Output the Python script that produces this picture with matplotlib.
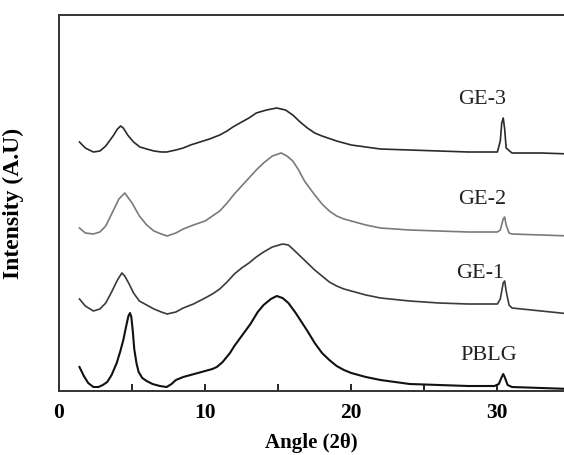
import numpy as np
import matplotlib.pyplot as plt

# === Data (angle 2theta, intensity in arbitrary units) ===
pblg_x = [1.4, 1.7, 2.0, 2.35, 2.7, 3.0, 3.3, 3.6, 3.95, 4.2, 4.4, 4.6, 4.75, 4.86, 4.95, 5.05,
          5.15, 5.3, 5.45, 5.7, 6.0, 6.4, 6.9, 7.37, 7.7, 8.0, 8.5, 9.0, 9.5, 10.0, 10.5, 10.8,
          11.2, 11.7, 12.0, 12.5, 13.1, 13.6, 14.0, 14.5, 14.9, 15.3, 15.7, 16.2, 16.6, 17.0,
          17.5, 18.0, 18.5, 19.0, 19.5, 20.0, 21.0, 22.0, 23.0, 24.0, 26.0, 28.0, 29.8, 30.1,
          30.3, 30.4, 30.5, 30.7, 31.0, 33.0, 35.0]
pblg_y = [24, 15, 8, 4, 4, 6, 9, 16, 28, 40, 51, 65, 75, 78, 74, 60,
          42, 28, 19, 13, 10, 7, 5, 4, 7, 11, 14, 16, 18, 20, 22, 24,
          29, 38, 45, 55, 67, 79, 86, 92, 95, 93, 88, 78, 69, 60,
          48, 38, 31, 25, 21, 18, 14, 11, 9, 7, 6, 5, 5, 7,
          14, 17, 14, 6, 4, 3, 2]

ge1_x = [1.4, 1.8, 2.35, 2.8, 3.2, 3.6, 4.0, 4.3, 4.5, 4.8, 5.1, 5.5, 6.0, 6.5, 7.0, 7.4, 8.0,
         8.5, 9.2, 10, 10.5, 11, 11.5, 12, 12.5, 13, 13.5, 14, 14.6, 15.3, 15.7, 16, 16.5, 17,
         17.5, 18, 18.5, 19, 19.5, 20, 21, 22, 24, 26, 28, 30, 30.2, 30.4, 30.5, 30.6, 30.8,
         31, 33, 35]
ge1_y = [92, 85, 80, 82, 88, 99, 111, 118, 115, 107, 98, 90, 86, 82, 79, 77, 79,
         83, 87, 93, 97, 102, 109, 117, 123, 128, 134, 139, 144, 147, 146, 142, 135, 128,
         121, 115, 109, 105, 102, 100, 96, 93, 90, 88, 87, 87, 92, 108, 110, 100, 86,
         83, 80, 77]

ge2_x = [1.4, 1.8, 2.35, 2.8, 3.2, 3.7, 4.1, 4.5, 4.8, 5.0, 5.5, 6.0, 6.5, 7.0, 7.4, 8.0, 8.5,
         9.2, 10, 10.5, 11, 11.5, 12, 12.5, 13, 13.5, 14, 14.6, 15.2, 15.6, 16, 16.4, 16.8,
         17.4, 18, 18.5, 19, 19.5, 20, 21, 22, 24, 26, 28, 30, 30.2, 30.4, 30.5, 30.6, 30.8,
         31, 33, 35]
ge2_y = [163, 158, 157, 159, 165, 180, 192, 198, 192, 188, 175, 166, 160, 157, 155, 158, 162,
         166, 170, 175, 180, 188, 197, 205, 213, 221, 228, 235, 238, 235, 230, 221, 210,
         198, 187, 180, 175, 172, 170, 166, 163, 161, 160, 159, 159, 161, 172, 174, 166, 158,
         157, 156, 155]

ge3_x = [1.4, 1.8, 2.35, 2.8, 3.2, 3.7, 4.0, 4.22, 4.4, 4.7, 5.1, 5.54, 6.0, 6.5, 7.0, 7.37,
         8.0, 8.5, 9.0, 9.65, 10.3, 11, 11.5, 11.9, 12.5, 13, 13.5, 14.2, 14.9, 15.5, 16, 16.5,
         17, 17.5, 18, 19, 20, 21, 22, 24, 26, 28, 30, 30.2, 30.3, 30.4, 30.5, 30.6, 31, 33, 35]
ge3_y = [249, 243, 239, 240, 245, 255, 262, 265, 263, 256, 249, 244, 242, 240, 239, 239,
         241, 243, 246, 249, 252, 256, 260, 264, 269, 273, 278, 281, 283, 281, 276, 269,
         263, 258, 255, 250, 246, 244, 242, 241, 240, 239, 239, 250, 268, 273, 262, 243, 238, 238, 237]

labels = ["PBLG", "GE-1", "GE-2", "GE-3"]
label_x = [27.5, 27.2, 27.3, 27.3]
label_y = [35, 117, 191, 292]

plt.rcParams['font.family'] = ['Liberation Serif', 'DejaVu Serif']

fig = plt.figure(figsize=(5.64, 4.55), dpi=100)
ax = fig.add_axes([59 / 564, 1 - 391 / 455, 1 - 59 / 564, 376 / 455])

ax.plot(pblg_x, pblg_y, color="#111111", linewidth=1.5)
ax.plot(ge1_x, ge1_y, color="#3a3a3a", linewidth=1.2)
ax.plot(ge2_x, ge2_y, color="#7a7a7a", linewidth=1.2)
ax.plot(ge3_x, ge3_y, color="#2a2a2a", linewidth=1.2)

for name, lx, ly in zip(labels, label_x, label_y):
    ax.text(lx, ly, name, fontsize=16, ha="left", va="center", color="#222222")

ax.set_xlim(0, 34.56)
ax.set_ylim(0, 376)
ax.set_xticks([0, 10, 20, 30])
ax.set_xticks([5, 15, 25], minor=True)
ax.set_yticks([])
ax.tick_params(axis="x", which="both", direction="in", length=5, width=1.2, pad=9)
for lab in ax.get_xticklabels():
    lab.set_fontsize(15.5)
    lab.set_fontweight("bold")
ax.spines["right"].set_visible(False)
for side in ["left", "top", "bottom"]:
    ax.spines[side].set_linewidth(1.4)
    ax.spines[side].set_color("#333333")

ax.set_xlabel("Angle (2θ)", fontsize=15, fontweight="bold", labelpad=7)
ax.set_ylabel("Intensity (A.U)", fontsize=17, fontweight="bold")
ax.yaxis.set_label_coords((24 - 59) / 505, 0.5)

fig.savefig("out.png", dpi=100)
